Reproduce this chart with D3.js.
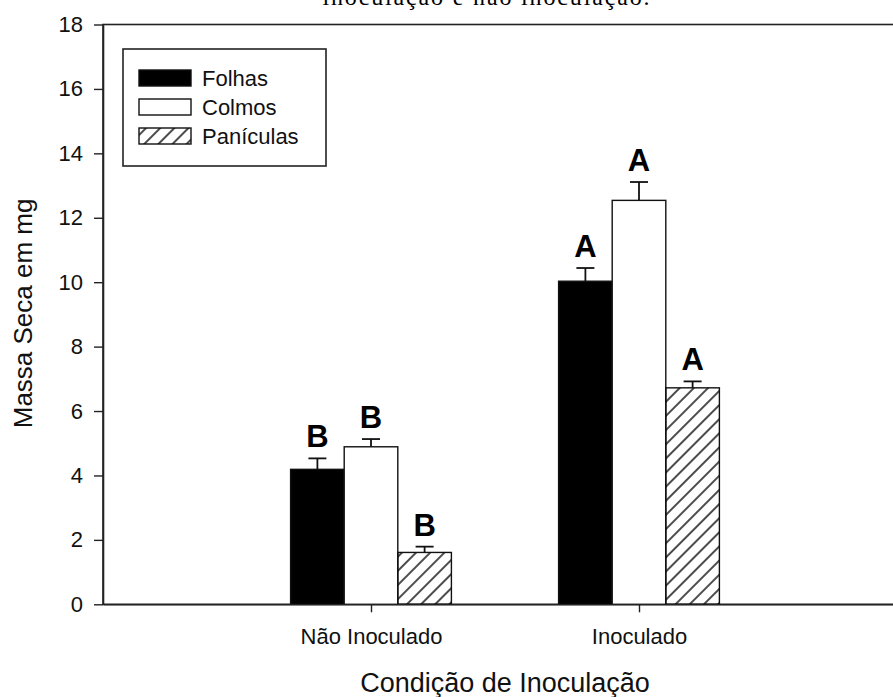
<!DOCTYPE html>
<html>
<head>
<meta charset="utf-8">
<script src="https://cdn.jsdelivr.net/npm/d3@7.9.0/dist/d3.min.js"></script>
<style>
  body { margin: 0; background: #fff; }
  svg { display: block; font-family: Arial, "Liberation Sans", sans-serif; }
</style>
</head>
<body>
<svg id="chart" width="893" height="697"></svg>
<script>
// data
const conditions = ['Não Inoculado', 'Inoculado'];
const series = ['Folhas', 'Colmos', 'Panículas'];
const folhas = [4.19, 10.03];
const folhasErr = [0.34, 0.41];
const colmos = [4.89, 12.54];
const colmosErr = [0.24, 0.57];
const paniculas = [1.61, 6.72];
const paniculasErr = [0.18, 0.20];
const folhasLetters = ['B', 'A'];
const colmosLetters = ['B', 'A'];
const paniculasLetters = ['B', 'A'];
const yTicks = [0, 2, 4, 6, 8, 10, 12, 14, 16, 18];

const values = [folhas, colmos, paniculas];
const errors = [folhasErr, colmosErr, paniculasErr];
const letters = [folhasLetters, colmosLetters, paniculasLetters];

const margin = { left: 103, top: 24.5, right: 907, bottom: 604.3 };
const svg = d3.select('#chart');

// caption line, cut off by the top edge as in the source figure
svg.append('text')
  .attr('x', 486).attr('y', 5)
  .attr('text-anchor', 'middle')
  .attr('font-family', '"Liberation Serif", "Times New Roman", serif')
  .attr('font-size', 24)
  .attr('textLength', 327)
  .text('inoculação e não inoculação.');

const x = d3.scalePoint().domain(conditions).range([margin.left, margin.right]).padding(1);
const xInner = d3.scaleBand().domain(series)
  .range([-x.step() * 0.3, x.step() * 0.3]);
const y = d3.scaleLinear().domain([0, 18]).range([margin.bottom, margin.top]);

// hatch pattern
const defs = svg.append('defs');
defs.append('pattern')
  .attr('id', 'hatch')
  .attr('patternUnits', 'userSpaceOnUse')
  .attr('width', 10).attr('height', 10)
  .attr('patternTransform', 'rotate(45)')
  .append('line')
  .attr('x1', 5).attr('y1', 0).attr('x2', 5).attr('y2', 10)
  .attr('stroke', '#000').attr('stroke-width', 1.4);

const fills = ['#000', '#fff', 'url(#hatch)'];

// frame (right side lies outside the visible area)
svg.append('rect')
  .attr('x', margin.left).attr('y', margin.top)
  .attr('width', margin.right - margin.left)
  .attr('height', margin.bottom - margin.top)
  .attr('fill', 'none').attr('stroke', '#222').attr('stroke-width', 1.6);

// bars
series.forEach((s, si) => {
  const g = svg.append('g');
  conditions.forEach((c, ci) => {
    const v = values[si][ci];
    const bx = x(c) + xInner(s);
    const cx = bx + xInner.bandwidth() / 2;
    g.append('rect')
      .attr('x', bx).attr('y', y(v))
      .attr('width', xInner.bandwidth())
      .attr('height', y(0) - y(v))
      .attr('fill', fills[si])
      .attr('stroke', '#111').attr('stroke-width', 1.4);
    const top = y(v + errors[si][ci]);
    g.append('line')
      .attr('x1', cx).attr('x2', cx)
      .attr('y1', y(v)).attr('y2', top)
      .attr('stroke', '#111').attr('stroke-width', 1.8);
    g.append('line')
      .attr('x1', cx - 9).attr('x2', cx + 9)
      .attr('y1', top).attr('y2', top)
      .attr('stroke', '#111').attr('stroke-width', 1.8);
    g.append('text')
      .attr('x', cx).attr('y', top - 11)
      .attr('text-anchor', 'middle')
      .attr('font-weight', 'bold').attr('font-size', 31)
      .text(letters[si][ci]);
  });
});

// axes
const yAxis = svg.append('g')
  .attr('transform', `translate(${margin.left},0)`)
  .call(d3.axisLeft(y).tickValues(yTicks).tickSize(9).tickPadding(11).tickSizeOuter(0));
yAxis.select('.domain').attr('stroke', '#222').attr('stroke-width', 1.6);
yAxis.selectAll('.tick line').attr('stroke', '#222').attr('stroke-width', 1.4);
yAxis.selectAll('.tick text').attr('font-size', 22).attr('fill', '#111')
  .attr('font-family', 'Arial, "Liberation Sans", sans-serif');

const xAxis = svg.append('g')
  .attr('transform', `translate(0,${margin.bottom})`)
  .call(d3.axisBottom(x).tickSize(8).tickPadding(16).tickSizeOuter(0));
xAxis.select('.domain').attr('stroke', '#222').attr('stroke-width', 1.6);
xAxis.selectAll('.tick line').attr('stroke', '#222').attr('stroke-width', 1.4);
xAxis.selectAll('.tick text').attr('font-size', 22).attr('fill', '#111')
  .attr('font-family', 'Arial, "Liberation Sans", sans-serif');

// axis titles
svg.append('text')
  .attr('transform', `translate(32,${(margin.top + margin.bottom) / 2 - 1}) rotate(-90)`)
  .attr('text-anchor', 'middle')
  .attr('font-size', 26).attr('fill', '#111')
  .text('Massa Seca em mg');

svg.append('text')
  .attr('x', (margin.left + margin.right) / 2).attr('y', 692)
  .attr('text-anchor', 'middle')
  .attr('font-size', 27).attr('fill', '#111')
  .text('Condição de Inoculação');

// legend
const legend = svg.append('g').attr('transform', 'translate(123,49)');
legend.append('rect')
  .attr('width', 203).attr('height', 117)
  .attr('fill', '#fff').attr('stroke', '#222').attr('stroke-width', 1.6);
series.forEach((s, si) => {
  const row = legend.append('g').attr('transform', `translate(16,${21 + si * 29})`);
  row.append('rect')
    .attr('width', 52).attr('height', 16)
    .attr('fill', fills[si])
    .attr('stroke', '#111').attr('stroke-width', 1.4);
  row.append('text')
    .attr('x', 63).attr('y', 8).attr('dy', '0.36em')
    .attr('font-size', 22).attr('fill', '#111')
    .text(s);
});
</script>
</body>
</html>
